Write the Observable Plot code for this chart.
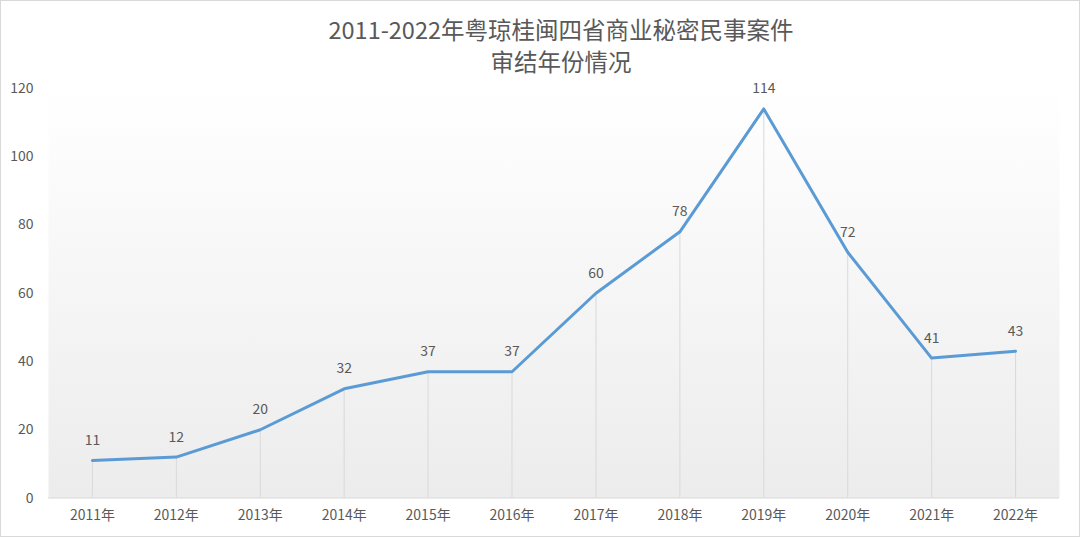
<!DOCTYPE html>
<html>
<head>
<meta charset="utf-8">
<script src="https://cdn.jsdelivr.net/npm/d3@7"></script>
<script src="https://cdn.jsdelivr.net/npm/@observablehq/plot@0.6"></script>
<style>
  html, body { margin: 0; padding: 0; background: #fff; }
  #wrap { position: relative; width: 1080px; height: 537px; box-sizing: border-box; border: 1px solid #d9d9d9; overflow: hidden; }
  #title { position: absolute; left: 42px; right: 0; top: 12px; text-align: center; font-family: "Noto Sans CJK SC", sans-serif; font-size: 23.5px; line-height: 32px; color: #595959; pointer-events: none; }
  #chart { position: absolute; left: -1px; top: -1px; }
</style>
</head>
<body>
<div id="wrap">
  <div id="chart"></div>
  <div id="title">2011-2022年粤琼桂闽四省商业秘密民事案件<br>审结年份情况</div>
</div>
<script>
const years = ["2011年","2012年","2013年","2014年","2015年","2016年","2017年","2018年","2019年","2020年","2021年","2022年"];
const counts = [11, 12, 20, 32, 37, 37, 60, 78, 114, 72, 41, 43];
const yTicks = [0, 20, 40, 60, 80, 100, 120];

const data = years.map((y, i) => ({year: y, value: counts[i]}));
const font = "Noto Sans CJK SC, sans-serif";

const plot = Plot.plot({
  width: 1080,
  height: 537,
  marginTop: 88,
  marginBottom: 39,
  marginLeft: 48,
  marginRight: 20,
  style: {fontFamily: font, fontSize: "14px", color: "#595959", background: "transparent"},
  x: {type: "band", domain: years, padding: 0, label: null},
  y: {domain: [0, 120], ticks: yTicks, label: null},
  marks: [
    Plot.frame({fill: "url(#bggrad)", stroke: null}),
    Plot.axisY({ticks: yTicks, tickSize: 0, tickPadding: 15, fontSize: 14, fill: "#595959"}),
    Plot.axisX({tickSize: 0, tickPadding: 12, fontSize: 14, fill: "#595959"}),
    Plot.ruleX(data, {x: "year", y1: 0, y2: "value", stroke: "#d9d9d9", strokeWidth: 1}),
    Plot.ruleY([0], {stroke: "#d9d9d9", strokeWidth: 1}),
    Plot.line(data, {x: "year", y: "value", stroke: "#5b9bd5", strokeWidth: 3, strokeLinejoin: "round", strokeLinecap: "round"}),
    Plot.text(data, {x: "year", y: "value", text: d => String(d.value), dy: -20, fontSize: 14, fill: "#595959"})
  ]
});

const svg = d3.select(plot);
const defs = svg.insert("defs", ":first-child");
const g = defs.append("linearGradient").attr("id", "bggrad").attr("x1", 0).attr("y1", 0).attr("x2", 0).attr("y2", 1);
g.append("stop").attr("offset", "0%").attr("stop-color", "#ffffff");
g.append("stop").attr("offset", "100%").attr("stop-color", "#ececec");

document.getElementById("chart").appendChild(plot);
</script>
</body>
</html>
